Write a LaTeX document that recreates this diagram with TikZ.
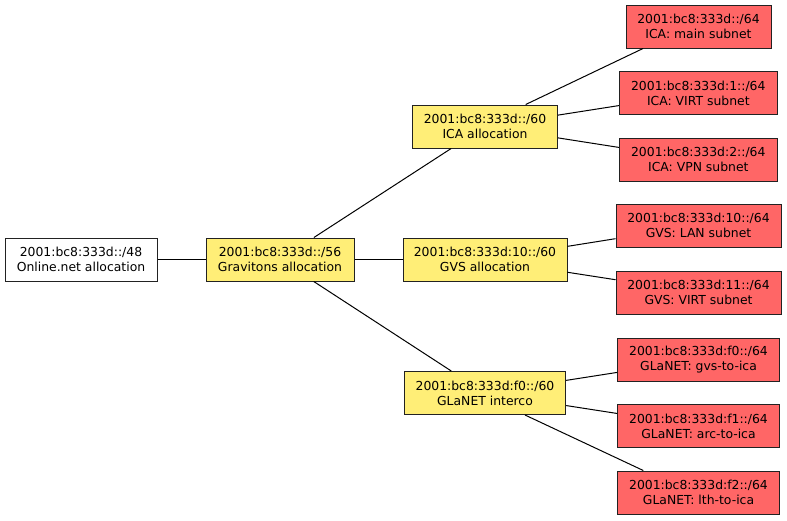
\documentclass[tikz,border=0pt]{standalone}
\usepackage{fontspec}
\setmainfont{DejaVu Sans}
\definecolor{alloc}{HTML}{FFEE77}
\definecolor{subnet}{HTML}{FF6666}
\definecolor{frame}{HTML}{222222}
\begin{document}
\begin{tikzpicture}[x=1pt,y=-1pt,
  box/.style={draw=frame,line width=1pt,inner sep=0pt,align=center,minimum height=43pt,font=\fontsize{12.4}{15}\selectfont},
  rootbox/.style={box,fill=white},
  allocbox/.style={box,fill=alloc},
  subbox/.style={box,fill=subnet},
  link/.style={draw=black,line width=1pt}]
\useasboundingbox (0,0) rectangle (787,520);
\node[rootbox,minimum width=152pt] (online) at (81,259.5) {2001:bc8:333d::/48\\Online.net allocation};
\node[allocbox,minimum width=148pt] (grav) at (280,259.5) {2001:bc8:333d::/56\\Gravitons allocation};
\node[allocbox,minimum width=145pt] (ica) at (485,126.5) {2001:bc8:333d::/60\\ICA allocation};
\node[allocbox,minimum width=164pt] (gvs) at (485,259.5) {2001:bc8:333d:10::/60\\GVS allocation};
\node[allocbox,minimum width=161.4pt] (glanet) at (485,393) {2001:bc8:333d:f0::/60\\GLaNET interco};
\node[subbox,minimum width=145pt] (main) at (698.5,26.5) {2001:bc8:333d::/64\\ICA: main subnet};
\node[subbox,minimum width=158pt] (icavirt) at (698.3,93.2) {2001:bc8:333d:1::/64\\ICA: VIRT subnet};
\node[subbox,minimum width=158pt] (vpn) at (698.3,159.8) {2001:bc8:333d:2::/64\\ICA: VPN subnet};
\node[subbox,minimum width=165pt] (lan) at (698.5,225.5) {2001:bc8:333d:10::/64\\GVS: LAN subnet};
\node[subbox,minimum width=165pt] (gvsvirt) at (698.5,292.5) {2001:bc8:333d:11::/64\\GVS: VIRT subnet};
\node[subbox,minimum width=161.6pt] (gvsica) at (698.5,359.8) {2001:bc8:333d:f0::/64\\GLaNET: gvs-to-ica};
\node[subbox,minimum width=161.6pt] (arc) at (698.5,426) {2001:bc8:333d:f1::/64\\GLaNET: arc-to-ica};
\node[subbox,minimum width=161.6pt] (lth) at (698.5,492.5) {2001:bc8:333d:f2::/64\\GLaNET: lth-to-ica};
\draw[link] (online) -- (grav);
\draw[link] (grav) -- (ica);
\draw[link] (grav) -- (gvs);
\draw[link] (grav) -- (glanet);
\draw[link] ([xshift=40.7pt]ica.north) -- ([xshift=-55.5pt]main.south);
\draw[link] (ica) -- (icavirt);
\draw[link] (ica) -- (vpn);
\draw[link] (gvs) -- (lan);
\draw[link] (gvs) -- (gvsvirt);
\draw[link] (glanet) -- (gvsica);
\draw[link] (glanet) -- (arc);
\draw[link] ([xshift=40pt]glanet.south) -- ([xshift=-55.2pt]lth.north);
\end{tikzpicture}
\end{document}
